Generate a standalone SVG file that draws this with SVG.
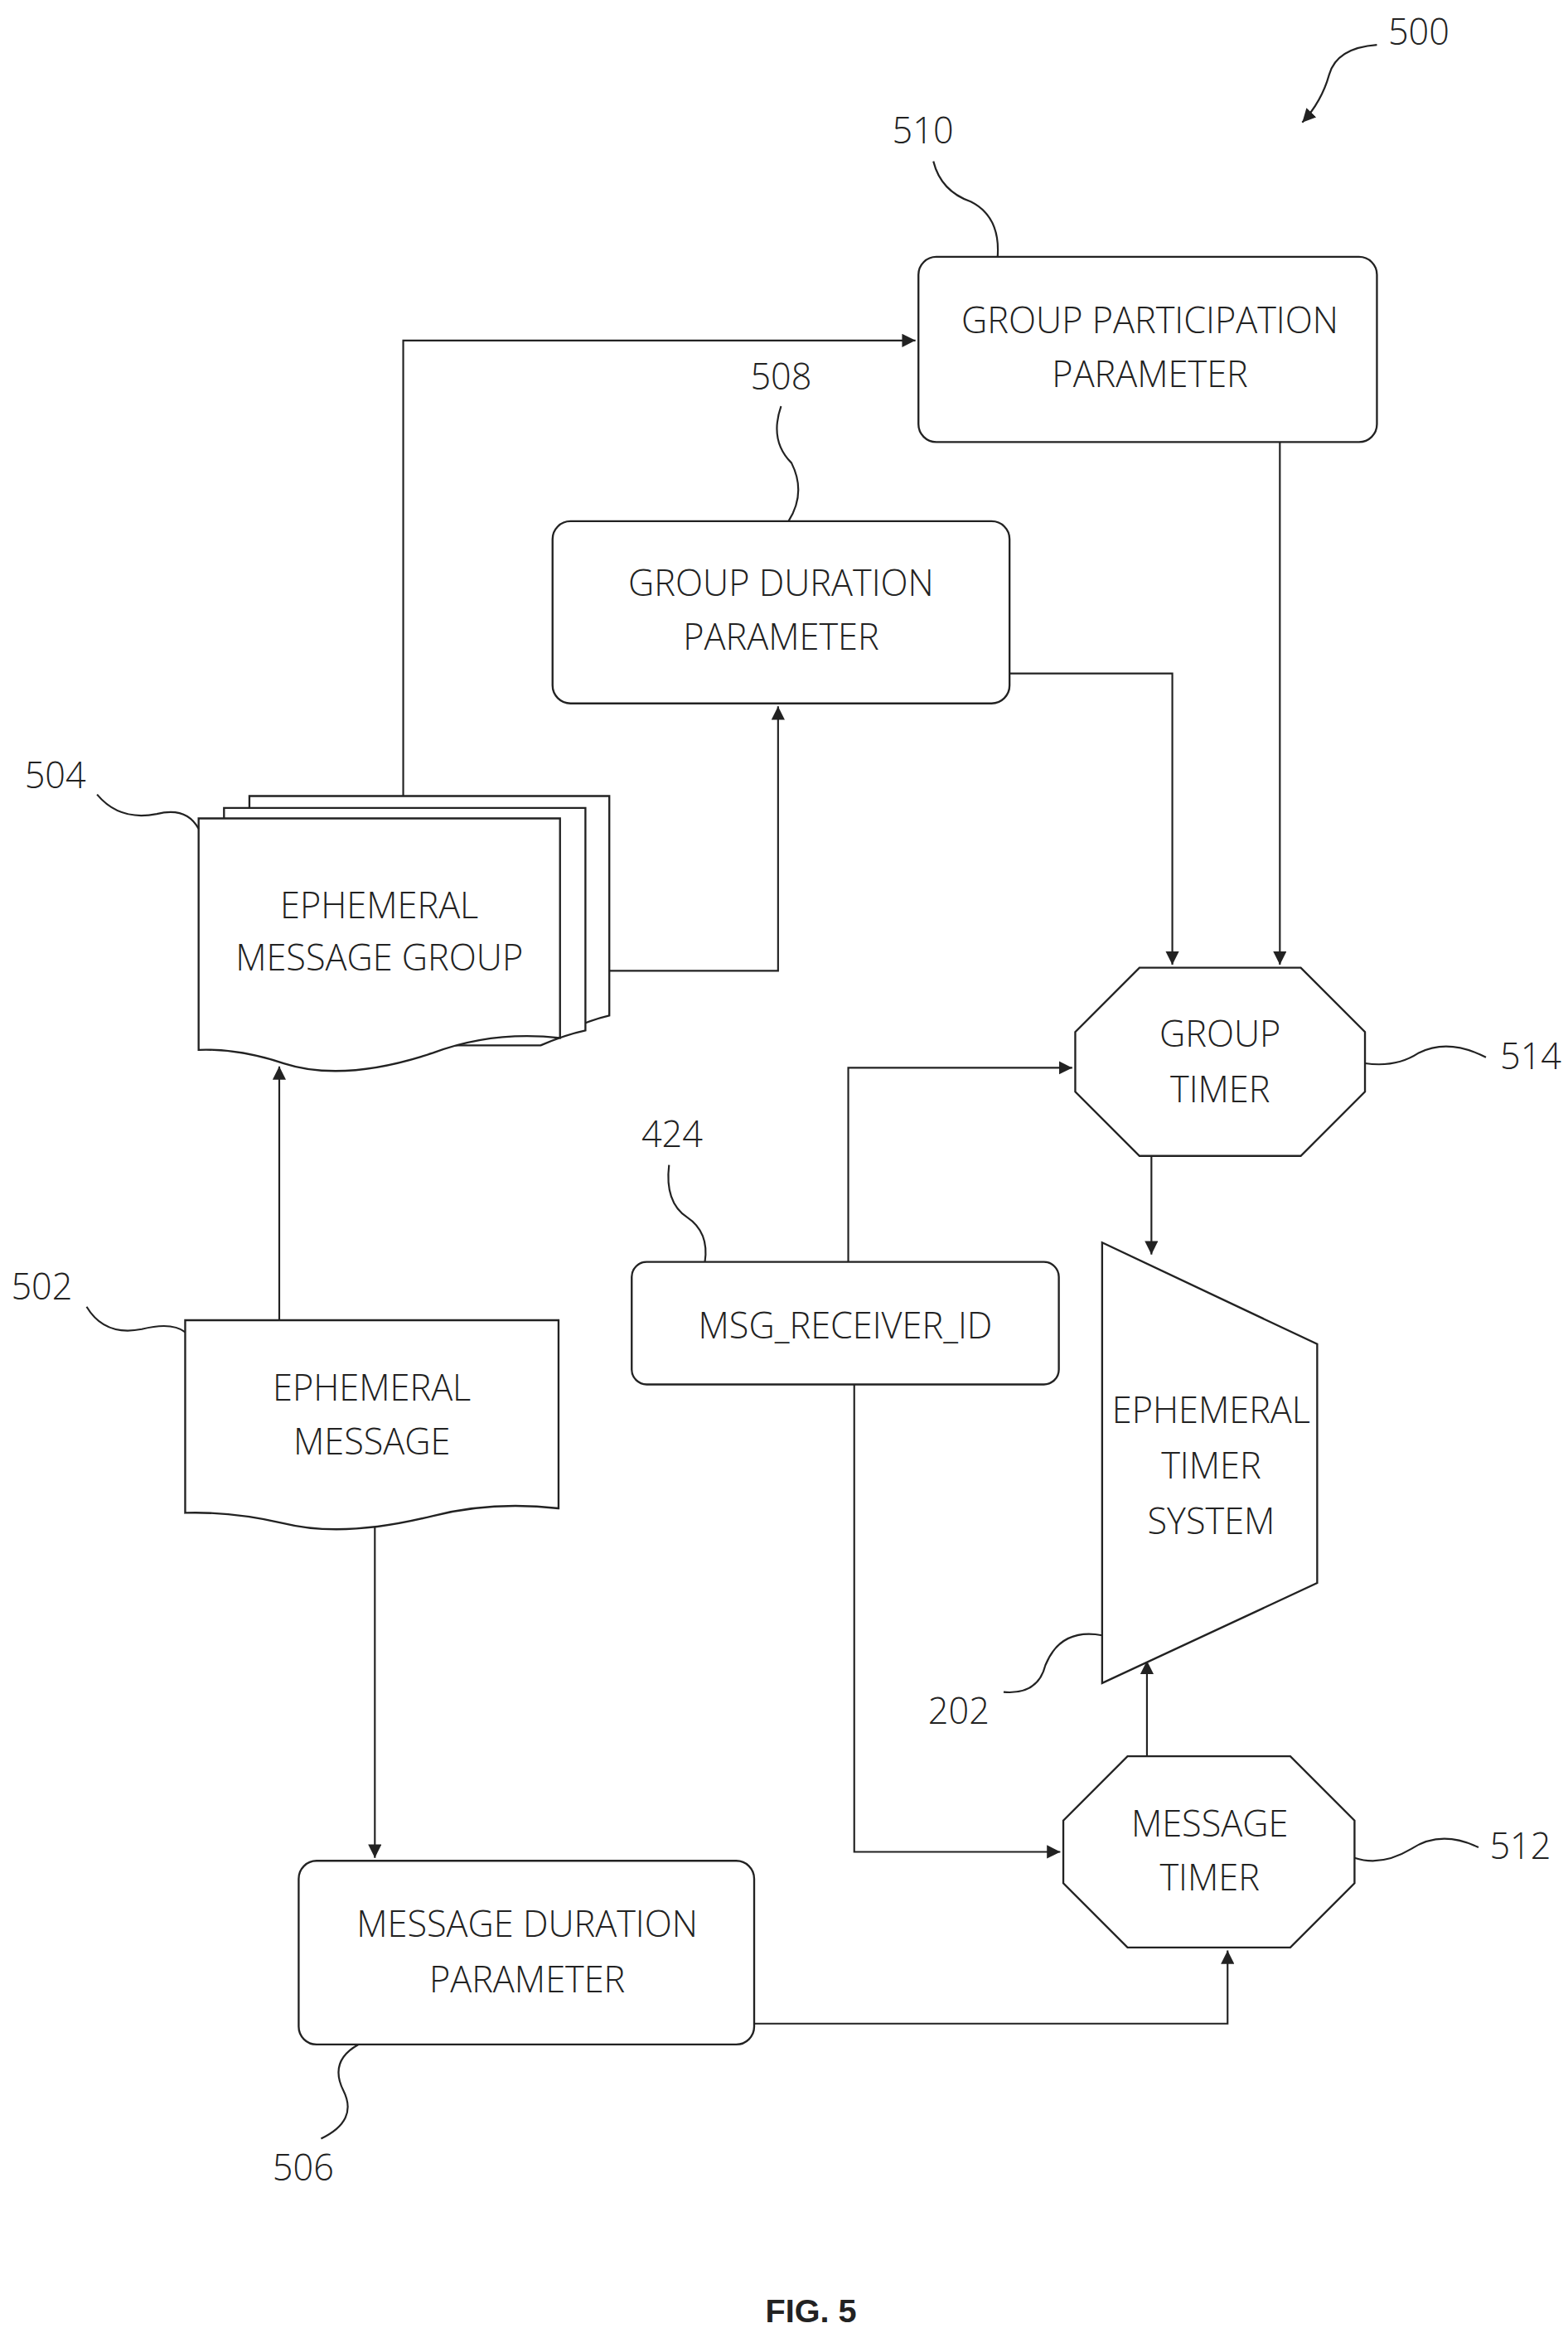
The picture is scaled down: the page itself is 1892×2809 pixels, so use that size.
<svg xmlns="http://www.w3.org/2000/svg" width="1892" height="2809" viewBox="0 0 1892 2809">
<style>
.s{fill:#fff;stroke:#222;stroke-width:1.3}
.c{fill:none;stroke:#222;stroke-width:1.2}
.t{font-family:"Open Sans","Liberation Sans",sans-serif;font-size:24px;fill:#222;text-anchor:middle;font-weight:300}
.l{font-family:"Open Sans","Liberation Sans",sans-serif;font-size:24px;fill:#222;text-anchor:middle;font-weight:300}
</style>
<defs><marker id="a" viewBox="0 0 10 10" refX="10" refY="5" markerWidth="9" markerHeight="9" markerUnits="userSpaceOnUse" orient="auto"><path d="M0,0L10,5L0,10z" fill="#222"/></marker></defs>
<rect width="1892" height="2809" fill="#fff"/>
<g transform="scale(1.802)">
<g id="connectors">
<path class="c" d="M270,533V228H613" marker-end="url(#a)"/>
<path class="c" d="M408,650H521V473" marker-end="url(#a)"/>
<path class="c" d="M676,451H785V646" marker-end="url(#a)"/>
<path class="c" d="M857,296V646" marker-end="url(#a)"/>
<path class="c" d="M568,845V715H718" marker-end="url(#a)"/>
<path class="c" d="M771,774V840" marker-end="url(#a)"/>
<path class="c" d="M187,884V714" marker-end="url(#a)"/>
<path class="c" d="M251,1020V1244" marker-end="url(#a)"/>
<path class="c" d="M572,927V1240H710" marker-end="url(#a)"/>
<path class="c" d="M505,1355H822V1306" marker-end="url(#a)"/>
<path class="c" d="M768,1176V1112" marker-end="url(#a)"/>
</g>
<g id="n510"><rect class="s" x="615" y="172" width="307" height="124" rx="12"/><text class="t" x="770" y="223">GROUP PARTICIPATION</text><text class="t" x="770" y="259">PARAMETER</text></g>
<g id="n508"><rect class="s" x="370" y="349" width="306" height="122" rx="12"/><text class="t" x="523" y="399">GROUP DURATION</text><text class="t" x="523" y="435">PARAMETER</text></g>
<g id="n504">
<path class="s" d="M167,533H408V680Q395,683 380,690L167,690Z"/>
<path class="s" d="M150,541H392V690Q378,693 362,700L150,700Z"/>
<path class="s" d="M133,548H375V695Q330,690 290,705Q230,725 190,712Q160,702 133,703Z"/>
<text class="t" x="254" y="615">EPHEMERAL</text><text class="t" x="254" y="650">MESSAGE GROUP</text></g>
<g id="n502"><path class="s" d="M124,884H374V1010Q330,1005 290,1015Q230,1030 190,1020Q155,1012 124,1013Z"/><text class="t" x="249" y="938">EPHEMERAL</text><text class="t" x="249" y="974">MESSAGE</text></g>
<g id="n506"><rect class="s" x="200" y="1246" width="305" height="123" rx="12"/><text class="t" x="353" y="1297">MESSAGE DURATION</text><text class="t" x="353" y="1334">PARAMETER</text></g>
<g id="n424"><rect class="s" x="423" y="845" width="286" height="82" rx="10"/><text class="t" x="566" y="896">MSG_RECEIVER_ID</text></g>
<g id="n514"><path class="s" d="M763,648H871L914,691V731L871,774H763L720,731V691Z"/><text class="t" x="817" y="701">GROUP</text><text class="t" x="817" y="738">TIMER</text></g>
<g id="n512"><path class="s" d="M755,1176H864L907,1219V1261L864,1304H755L712,1261V1219Z"/><text class="t" x="810" y="1230">MESSAGE</text><text class="t" x="810" y="1266">TIMER</text></g>
<g id="n202"><path class="s" d="M738,832L882,900V1060L738,1127Z"/><text class="t" x="811" y="953">EPHEMERAL</text><text class="t" x="811" y="990">TIMER</text><text class="t" x="811" y="1027">SYSTEM</text></g>
<g id="labels">
<text class="l" x="950" y="30">500</text><path class="c" d="M922,30Q895,32 890,50Q885,68 872,82" marker-end="url(#a)"/>
<text class="l" x="618" y="96">510</text><path class="c" d="M625,108Q630,128 650,135Q670,145 668,172"/>
<text class="l" x="523" y="261">508</text><path class="c" d="M523,272Q515,295 530,310Q540,330 528,349"/>
<text class="l" x="37" y="528">504</text><path class="c" d="M65,532Q80,550 105,545Q125,540 133,555"/>
<text class="l" x="28" y="870">502</text><path class="c" d="M58,875Q70,895 95,890Q115,885 124,892"/>
<text class="l" x="450" y="768">424</text><path class="c" d="M448,780Q445,805 460,815Q475,825 472,845"/>
<text class="l" x="1025" y="716">514</text><path class="c" d="M914,712Q935,715 950,705Q970,695 995,708"/>
<text class="l" x="1018" y="1245">512</text><path class="c" d="M907,1244Q925,1250 945,1238Q965,1225 990,1237"/>
<text class="l" x="642" y="1154">202</text><path class="c" d="M672,1133Q695,1135 700,1115Q710,1090 738,1095"/>
<text class="l" x="203" y="1460">506</text><path class="c" d="M240,1369Q220,1380 230,1400Q240,1420 215,1432"/>
<text x="543" y="1555" style="font-family:'Liberation Sans',sans-serif;font-weight:bold;font-size:22px;text-anchor:middle;fill:#222">FIG. 5</text>
</g>
</g>
</svg>
